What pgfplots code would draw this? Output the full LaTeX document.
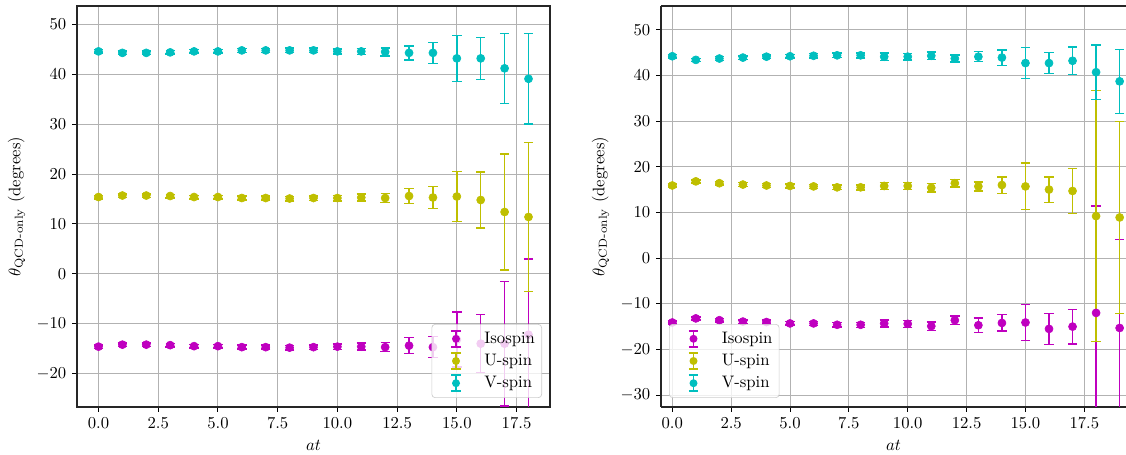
\documentclass[border=0pt]{standalone}
\usepackage{amsmath}
\usepackage{pgfplots}
\pgfplotsset{compat=1.18}
\usepackage{pgfplotstable}
\definecolor{mcol}{rgb}{0.75,0,0.75}
\definecolor{ycol}{rgb}{0.75,0.75,0}
\definecolor{ccol}{rgb}{0,0.75,0.75}

\pgfplotstableread{
x iso isoe u ue v ve
0 -14.6 0.35 15.4 0.35 44.6 0.35
1 -14.2 0.35 15.7 0.35 44.3 0.35
2 -14.2 0.35 15.7 0.35 44.3 0.35
3 -14.3 0.35 15.6 0.35 44.4 0.35
4 -14.5 0.35 15.4 0.35 44.6 0.35
5 -14.5 0.35 15.4 0.35 44.6 0.35
6 -14.7 0.4 15.2 0.4 44.8 0.4
7 -14.7 0.4 15.2 0.4 44.8 0.4
8 -14.8 0.45 15.1 0.45 44.8 0.45
9 -14.7 0.45 15.2 0.45 44.8 0.45
10 -14.6 0.55 15.2 0.55 44.6 0.5
11 -14.6 0.7 15.3 0.7 44.6 0.6
12 -14.7 0.9 15.2 0.9 44.5 0.8
13 -14.4 1.6 15.6 1.5 44.3 1.4
14 -14.7 2.1 15.3 2.2 44.3 2.1
15 -13.2 5.5 15.5 5.0 43.2 4.6
16 -14.0 5.8 14.8 5.6 43.2 4.2
17 -14.0 12.5 12.4 11.6 41.2 7.0
18 -12.2 15.2 11.4 14.9 39.1 9.1
}\leftdata

\pgfplotstableread{
x iso isoe u ue v ve
0 -14.1 0.35 15.9 0.35 44.2 0.35
1 -13.2 0.35 16.8 0.35 43.4 0.35
2 -13.6 0.4 16.4 0.4 43.7 0.4
3 -13.9 0.4 16.1 0.4 43.9 0.4
4 -14.0 0.4 15.9 0.4 44.1 0.4
5 -14.3 0.4 15.8 0.4 44.2 0.4
6 -14.3 0.45 15.7 0.45 44.3 0.45
7 -14.6 0.5 15.5 0.5 44.4 0.5
8 -14.6 0.55 15.5 0.55 44.4 0.55
9 -14.3 0.8 15.8 0.8 44.1 0.8
10 -14.4 0.75 15.8 0.75 44.1 0.75
11 -14.9 0.9 15.4 0.9 44.3 0.8
12 -13.6 0.9 16.4 0.8 43.7 0.8
13 -14.7 1.6 15.7 1.0 44.1 1.1
14 -14.2 1.8 16.0 1.8 43.9 1.7
15 -14.1 3.9 15.7 5.1 42.7 3.4
16 -15.5 3.4 15.0 2.8 42.7 2.3
17 -15.0 3.8 14.7 4.9 43.2 3.0
18 -12.0 23.4 9.2 27.5 40.7 6.0
19 -15.3 19.4 8.9 21.0 38.7 7.0
}\rightdata

\newcommand{\eblegend}[1]{%
  \path[draw=none, fill=none] (0pt,-6pt) rectangle (27.5pt,6pt);
  \draw[#1, line width=0.9pt, draw opacity=1, rounded corners=0pt] (12.5pt,-4.8pt) -- (12.5pt,4.8pt)
     (9.7pt,-4.8pt) -- (15.3pt,-4.8pt) (9.7pt,4.8pt) -- (15.3pt,4.8pt);
  \fill[#1, fill opacity=1, draw=none] (12.5pt,0pt) circle (2.4pt);}

\pgfplotsset{
  common/.style={
    scale only axis, height=240.6pt,
    grid=major, grid style={line width=0.6pt, color=black!30},
    tick align=outside, major tick length=2.9pt,
    tick style={line width=0.6pt, black},
    axis line style={line width=0.7pt, black!85},
    xtick={0,2.5,...,17.5},
    xticklabel style={/pgf/number format/.cd, fixed, fixed zerofill, precision=1},
    xlabel={$at$},
    ylabel={$\theta_{\text{QCD-only}}$ (degrees)},
    legend cell align=left,
    legend style={fill=white, fill opacity=0.8, draw opacity=1, text opacity=1,
      draw=black!20, rounded corners=2pt, row sep=1pt, inner xsep=2pt, inner ysep=2.5pt},
  },
  ebplot/.style={color=#1, only marks, mark=*, mark size=2.4pt,
      mark options={fill=#1, draw=none},
      /pgfplots/error bars/y dir=both, /pgfplots/error bars/y explicit,
      /pgfplots/error bars/error bar style={line width=0.9pt, color=#1},
      /pgfplots/error bars/error mark options={rotate=90, mark size=2.8pt, line width=0.9pt, color=#1}},
}

\begin{document}
\begin{tikzpicture}
\useasboundingbox (0,0) rectangle (675.6pt,273pt);
\begin{axis}[common, at={(46.2pt,28.8pt)}, anchor=south west, width=283.8pt,
  xmin=-0.9, xmax=18.9, ymin=-26.7, ymax=53.7, ytick={-20,-10,...,50},
  tick pos=left,
  legend style={at={(1,0)}, anchor=south east, xshift=-4.8pt, yshift=5.4pt}]
\addlegendimage{legend image code/.code={\eblegend{mcol}}}
\addlegendentry{Isospin}
\addlegendimage{legend image code/.code={\eblegend{ycol}}}
\addlegendentry{U-spin}
\addlegendimage{legend image code/.code={\eblegend{ccol}}}
\addlegendentry{V-spin}
\addplot[ebplot=mcol, forget plot] table[x=x, y=iso, y error=isoe] {\leftdata};
\addplot[ebplot=ycol, forget plot] table[x=x, y=u, y error=ue] {\leftdata};
\addplot[ebplot=ccol, forget plot] table[x=x, y=v, y error=ve] {\leftdata};
\end{axis}
\begin{axis}[common, at={(396.6pt,28.8pt)}, anchor=south west, width=279pt,
  axis x line*=box, axis y line*=left,
  xmin=-0.48, xmax=19.27, ymin=-32.6, ymax=55.2, ytick={-30,-20,...,50},
  tick pos=left,
  legend style={at={(0,0)}, anchor=south west, xshift=4.8pt, yshift=5.4pt}]
\addlegendimage{legend image code/.code={\eblegend{mcol}}}
\addlegendentry{Isospin}
\addlegendimage{legend image code/.code={\eblegend{ycol}}}
\addlegendentry{U-spin}
\addlegendimage{legend image code/.code={\eblegend{ccol}}}
\addlegendentry{V-spin}
\addplot[ebplot=mcol, forget plot] table[x=x, y=iso, y error=isoe] {\rightdata};
\addplot[ebplot=ycol, forget plot] table[x=x, y=u, y error=ue] {\rightdata};
\addplot[ebplot=ccol, forget plot] table[x=x, y=v, y error=ve] {\rightdata};
\end{axis}
\end{tikzpicture}
\end{document}
